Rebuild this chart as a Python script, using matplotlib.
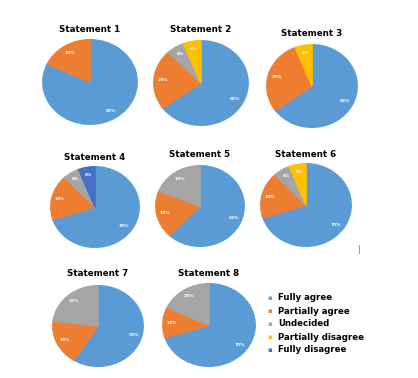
import matplotlib
matplotlib.use("Agg")
import matplotlib.pyplot as plt
from matplotlib.lines import Line2D

categories = ["Fully agree", "Partially agree", "Undecided", "Partially disagree", "Fully disagree"]
colors = ["#5B9BD5", "#ED7D31", "#A5A5A5", "#FFC000", "#4472C4"]
titles = ["Statement 1", "Statement 2", "Statement 3", "Statement 4",
          "Statement 5", "Statement 6", "Statement 7", "Statement 8"]
s1 = [82, 18, 0, 0, 0]
s2 = [65, 23, 6, 6, 0]
s3 = [65, 29, 0, 6, 0]
s4 = [70, 18, 6, 0, 6]
s5 = [62, 19, 19, 0, 0]
s6 = [70, 18, 6, 6, 0]
s7 = [59, 18, 23, 0, 0]
s8 = [70, 12, 18, 0, 0]
series = [s1, s2, s3, s4, s5, s6, s7, s8]

W, H = 418, 378
# pie geometry in pixels: (cx, cy, rx, ry), title y
geo = [(90, 82, 48, 43, 29), (201, 83, 48, 43, 30), (312, 86, 46, 42, 33),
       (95, 207, 45, 41, 157), (200, 206, 45, 41, 155), (306, 205, 46, 42, 155),
       (98, 326, 46, 41, 274), (209, 325, 47, 42, 274)]

fig = plt.figure(figsize=(W / 100, H / 100), dpi=100)
fig.patch.set_facecolor("white")

for vals, title, (cx, cy, rx, ry, ty) in zip(series, titles, geo):
    ax = fig.add_axes([(cx - rx) / W, (H - cy - ry) / H, 2 * rx / W, 2 * ry / H])
    v = [x for x in vals if x > 0]
    c = [col for x, col in zip(vals, colors) if x > 0]
    wedges, texts, autotexts = ax.pie(
        v, colors=c, startangle=90, counterclock=False,
        autopct=lambda p: f"{p:.0f}%", pctdistance=0.82,
        wedgeprops=dict(edgecolor="#6a8fbf", linewidth=0.6),
        textprops=dict(color="white", fontsize=3.2, fontweight="bold"))
    for w, col in zip(wedges, c):
        w.set_edgecolor(col)
        w.set_linewidth(1.2)
    ax.set_aspect("auto")
    ax.set_xlim(-1.02, 1.02)
    ax.set_ylim(-1.02, 1.02)
    fig.text(cx / W, 1 - ty / H, title, ha="center", va="center",
             fontsize=6.3, fontweight="bold", color="black")

# stray mark
fig.text(359 / W, 1 - 250 / H, "|", ha="center", va="center", fontsize=6, color="#777777")

# legend
ly = [298, 311, 324, 337, 350]
for y, lab, col in zip(ly, categories, colors):
    fig.text(270 / W, 1 - y / H, "\u25aa", ha="center", va="center", fontsize=5, color=col)
    fig.text(278 / W, 1 - y / H, lab, ha="left", va="center", fontsize=6.2,
             fontweight="bold", color="black")

fig.savefig("out.png", dpi=100)
